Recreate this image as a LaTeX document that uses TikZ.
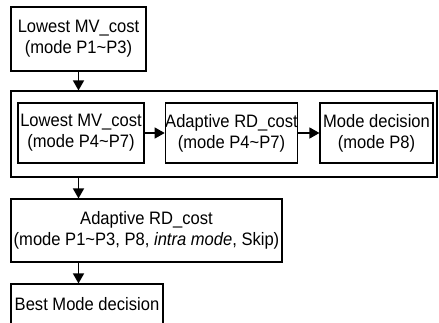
\documentclass[tikz,border=0pt]{standalone}
\usepackage{fontspec}
\setmainfont{Liberation Sans}[FakeStretch=0.92]
\usetikzlibrary{arrows.meta}

\begin{document}
\begin{tikzpicture}[x=1pt,y=-1pt,
  box/.style={draw,line width=1.1pt,inner sep=0pt,align=center,
    font=\fontsize{18}{21}\selectfont},
  flow/.style={line width=1.3pt,-{Triangle[length=10pt,width=11pt]}}]

  \useasboundingbox (0,0) rectangle (439,322);
  \clip (0,0) rectangle (439,322);

  % first pass
  \node[box,minimum width=135pt,minimum height=64pt] (mvone) at (78.5,39)
    {Lowest MV\_cost\\(mode P1\textasciitilde P3)};

  % second pass
  \node[draw,line width=1.1pt,minimum width=426pt,minimum height=86pt] (stage) at (224,134) {};
  \node[box,minimum width=126pt,minimum height=60pt] (mvfour) at (81,133)
    {Lowest MV\_cost\\(mode P4\textasciitilde P7)};
  \node[box,minimum width=129pt,minimum height=60pt] (rdfour) at (231.5,133)
    {Adaptive RD\_cost\\(mode P4\textasciitilde P7)};
  \node[box,minimum width=113pt,minimum height=60pt] (decide) at (376.5,133)
    {Mode decision\\(mode P8)};

  % final stage
  \node[box,minimum width=271pt,minimum height=63pt] (rdall) at (146.5,230.5)
    {Adaptive RD\_cost\\(mode P1\textasciitilde P3, P8, \textit{intra mode}, Skip)};
  \node[box,minimum width=152pt,minimum height=40pt] (best) at (87,304)
    {Best Mode decision};

  \draw[flow] (mvone.south) -- (mvone.south |- stage.north);
  \draw[flow] (mvfour) -- (rdfour);
  \draw[flow] (rdfour) -- (decide);
  \draw[flow] (mvone.south |- stage.south) -- (mvone.south |- rdall.north);
  \draw[flow] (mvone.south |- rdall.south) -- (mvone.south |- best.north);

\end{tikzpicture}
\end{document}
